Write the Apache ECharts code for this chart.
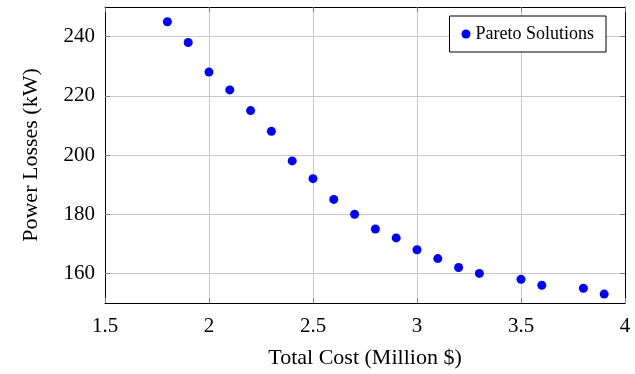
<!DOCTYPE html>
<html>
<head>
<meta charset="utf-8">
<script src="https://cdn.jsdelivr.net/npm/echarts@6/dist/echarts.min.js"></script>
<style>
  html, body { margin: 0; padding: 0; background: #fff; }
  #chart { width: 635px; height: 374px; }
</style>
</head>
<body>
<div id="chart"></div>
<script>
// Pareto front: total cost (million $) vs. power losses (kW)
const totalCost = [1.8, 1.9, 2.0, 2.1, 2.2, 2.3, 2.4, 2.5, 2.6, 2.7, 2.8, 2.9, 3.0, 3.1, 3.2, 3.3, 3.5, 3.6, 3.8, 3.9];
const powerLosses = [245, 238, 228, 222, 215, 208, 198, 192, 185, 180, 175, 172, 168, 165, 162, 160, 158, 156, 155, 153];
const costTicks = [1.5, 2, 2.5, 3, 3.5, 4];
const lossTicks = [160, 180, 200, 220, 240];
const seriesName = 'Pareto Solutions';

const points = totalCost.map((c, i) => [c, powerLosses[i]]);
const serif = '"Liberation Serif", "DejaVu Serif", serif';
const tick = vals => ({ show: true, inside: true, length: 5, customValues: vals, lineStyle: { color: '#808080', width: 1 } });

const chart = echarts.init(document.getElementById('chart'));
chart.setOption({
  animation: false,
  grid: { left: 105, right: 10, top: 7, bottom: 71, containLabel: false },
  legend: {
    right: 29, top: 16,
    padding: [9, 12, 9, 12],
    itemWidth: 9, itemHeight: 9, itemGap: 4,
    borderColor: '#000', borderWidth: 1, borderRadius: 0,
    backgroundColor: '#fff',
    textStyle: { fontFamily: serif, fontSize: 18, color: '#000' },
    data: [{ name: seriesName, icon: 'circle' }]
  },
  xAxis: [{
    type: 'value', min: 1.5, max: 4, interval: 0.5,
    name: 'Total Cost (Million $)', nameLocation: 'middle', nameGap: 44,
    nameTextStyle: { fontFamily: serif, fontSize: 22, color: '#000' },
    axisLine: { show: true, lineStyle: { color: '#000', width: 1 } },
    axisTick: tick(costTicks),
    axisLabel: { fontFamily: serif, fontSize: 21, color: '#000', margin: 13, customValues: costTicks },
    splitLine: { show: true, lineStyle: { color: '#c8c8c8', width: 1 } }
  }, {
    type: 'value', position: 'top', min: 1.5, max: 4, interval: 0.5,
    axisLine: { show: true, lineStyle: { color: '#000', width: 1 } },
    axisTick: tick(costTicks), axisLabel: { show: false }, splitLine: { show: false }
  }],
  yAxis: [{
    type: 'value', min: 150, max: 250,
    name: 'Power Losses (kW)', nameLocation: 'middle', nameGap: 63, nameRotate: 90,
    nameTextStyle: { fontFamily: serif, fontSize: 22, color: '#000' },
    axisLine: { show: true, lineStyle: { color: '#000', width: 1 } },
    axisTick: tick(lossTicks),
    axisLabel: { fontFamily: serif, fontSize: 21, color: '#000', margin: 10, customValues: lossTicks },
    splitLine: { show: true, lineStyle: { color: '#c8c8c8', width: 1 } }
  }, {
    type: 'value', position: 'right', min: 150, max: 250,
    axisLine: { show: true, lineStyle: { color: '#000', width: 1 } },
    axisTick: tick(lossTicks), axisLabel: { show: false }, splitLine: { show: false }
  }],
  series: [{
    name: seriesName,
    type: 'scatter',
    symbol: 'circle',
    symbolSize: 9,
    itemStyle: { color: '#0000ff', opacity: 1 },
    data: points
  }]
});
</script>
</body>
</html>
